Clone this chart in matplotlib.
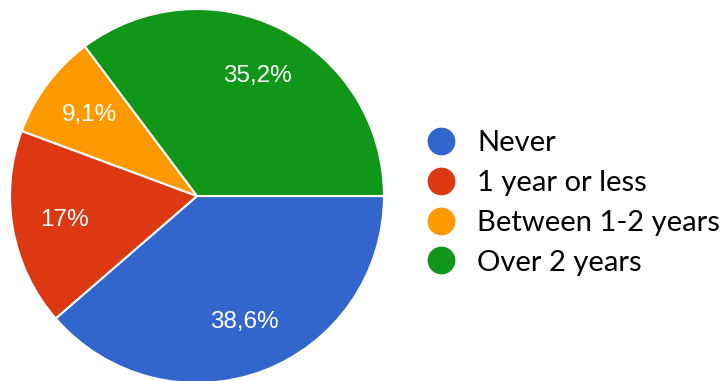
import numpy as np
import matplotlib.pyplot as plt
from matplotlib.lines import Line2D

labels = ["Never", "1 year or less", "Between 1-2 years", "Over 2 years"]
values = [38.6, 17.0, 9.1, 35.2]
pct_text = ["38,6%", "17%", "9,1%", "35,2%"]
colors = ["#3366CC", "#DC3912", "#FF9900", "#109618"]

W, H = 728, 381
fig = plt.figure(figsize=(W / 100, H / 100), dpi=100)

# pie centre ~ (197, 196) px, radius ~187 px
cx, cy, r = 197, 196, 187
ax = fig.add_axes([(cx - r) / W, (H - cy - r) / H, 2 * r / W, 2 * r / H])

wedges, _ = ax.pie(values, colors=colors, startangle=0, counterclock=False,
                   wedgeprops=dict(edgecolor="white", linewidth=1.5), radius=1)
ax.set_xlim(-1, 1)
ax.set_ylim(-1, 1)
ax.set_aspect("equal")

for w, t in zip(wedges, pct_text):
    mid = np.deg2rad((w.theta1 + w.theta2) / 2)
    ax.text(0.72 * np.cos(mid), 0.72 * np.sin(mid), t, color="white",
            fontsize=17.5, ha="center", va="center", family="Liberation Sans")

handles = [Line2D([], [], marker="o", linestyle="", markersize=19,
                  markerfacecolor=c, markeredgecolor=c) for c in colors]
fig.legend(handles, labels, loc="center left", bbox_to_anchor=(412 / W, 1 - 203 / H),
           frameon=False, prop=dict(family="Lato", size=21),
           handletextpad=0.73, labelspacing=0.47, handlelength=1.0, borderpad=0)

fig.savefig("out.png", dpi=100)
